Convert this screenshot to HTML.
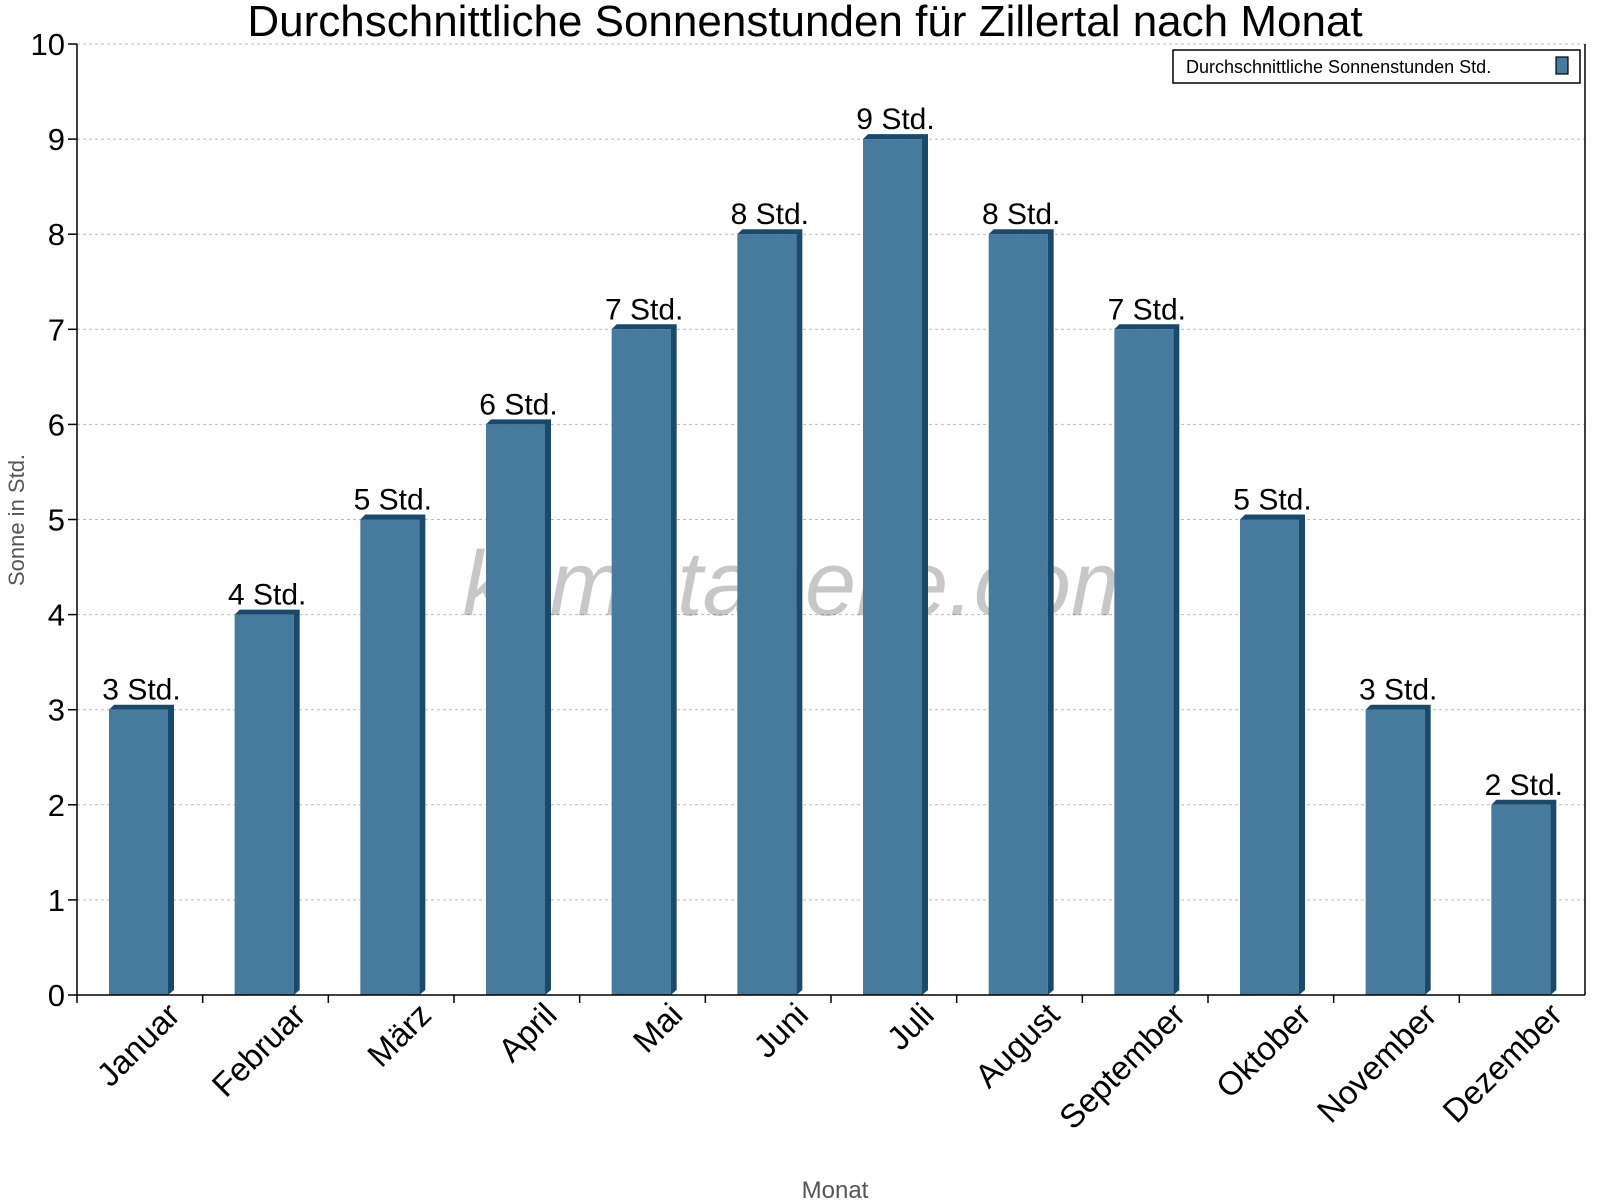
<!DOCTYPE html>
<html><head><meta charset="utf-8"><style>
body{margin:0;background:#fff;}
svg{display:block;font-family:"Liberation Sans",sans-serif;}
</style></head><body>
<svg id="chart" width="1600" height="1200" viewBox="0 0 1600 1200">
<text x="805" y="36" font-size="44" text-anchor="middle">Durchschnittliche Sonnenstunden für Zillertal nach Monat</text>
<g id="grid"></g>
<text x="805" y="615" font-size="92" font-style="italic" fill="#000" fill-opacity="0.22" text-anchor="middle">klimatabelle.com</text>
<g id="bars"></g>
<g id="axes"></g>
<text transform="translate(24,520) rotate(-90)" font-size="22" fill="#555" text-anchor="middle">Sonne in Std.</text>
<text x="835" y="1198" font-size="24" fill="#555" text-anchor="middle">Monat</text>
<g>
<rect x="1173" y="50" width="407" height="33" fill="#fff" stroke="#000" stroke-width="1.5"/>
<text x="1186" y="73" font-size="18">Durchschnittliche Sonnenstunden Std.</text>
<rect x="1556" y="57" width="12" height="17" fill="#467b9e" stroke="#000" stroke-width="1.2"/>
</g>
</svg>
<script>
const categories=["Januar","Februar","März","April","Mai","Juni","Juli","August","September","Oktober","November","Dezember"];
const values=[3,4,5,6,7,8,9,8,7,5,3,2];
const valueLabels=["3 Std.","4 Std.","5 Std.","6 Std.","7 Std.","8 Std.","9 Std.","8 Std.","7 Std.","5 Std.","3 Std.","2 Std."];
const yTicks=[0,1,2,3,4,5,6,7,8,9,10];
const NS="http://www.w3.org/2000/svg";
const L=77,R=1585,T=44,B=995,yMax=10;
const band=(R-L)/categories.length;
const y=v=>B-(v/yMax)*(B-T);
const x=i=>L+i*band;
function mk(tag,attrs,parent){const e=document.createElementNS(NS,tag);for(const k in attrs)e.setAttribute(k,attrs[k]);parent.appendChild(e);return e;}
const grid=document.getElementById('grid'),bars=document.getElementById('bars'),axes=document.getElementById('axes');
yTicks.forEach(t=>{
  if(t>0){const g=mk('line',{x1:L,x2:R,y1:y(t),y2:y(t),stroke:'#bbb','stroke-dasharray':'3,3'},grid);
  
  }
  const tk=mk('line',{x1:L-9,x2:L,y1:y(t),y2:y(t),stroke:'#000','stroke-width':1.5},axes);
  
  
  const tl=mk('text',{x:L-12,y:y(t)+11,'font-size':31,'text-anchor':'end'},axes);
  tl.textContent=t;
  
  
});
const ya=mk('line',{x1:L,x2:L,y1:T,y2:B,stroke:'#000','stroke-width':1.5},axes);


const yr=mk('line',{x1:R,x2:R,y1:T,y2:B,stroke:'#000','stroke-width':1.5},axes);


const xa=mk('line',{x1:L,x2:R,y1:B,y2:B,stroke:'#000','stroke-width':1.5},axes);


categories.forEach((c,i)=>{
  const bx=x(i)+32,w=59,top=y(values[i]);
  const g=mk('g',{},bars);
  
  
  mk('polygon',{points:`${bx},${top} ${bx+5},${top-5} ${bx+w+6},${top-5} ${bx+w+6},${B-5} ${bx+w},${B} ${bx+w},${top}`,fill:'#1a4a6b'},g);
  mk('rect',{x:bx,y:top,width:w,height:B-top,fill:'#467b9e'},g);
  const vl=mk('text',{x:bx+w/2+3,y:top-10,'font-size':30,'text-anchor':'middle'},bars);
  vl.textContent=valueLabels[i];
  
  
  const tk=mk('line',{x1:x(i),x2:x(i),y1:B,y2:B+8,stroke:'#000','stroke-width':1.5},axes);
  
  
  const cx=x(i)+band/2+42;
  const xl=mk('text',{x:cx,y:B+22,'font-size':33,'text-anchor':'end',transform:`rotate(-45 ${cx} ${B+22})`},axes);
  xl.textContent=c;
  
  
});
</script>
</body></html>
